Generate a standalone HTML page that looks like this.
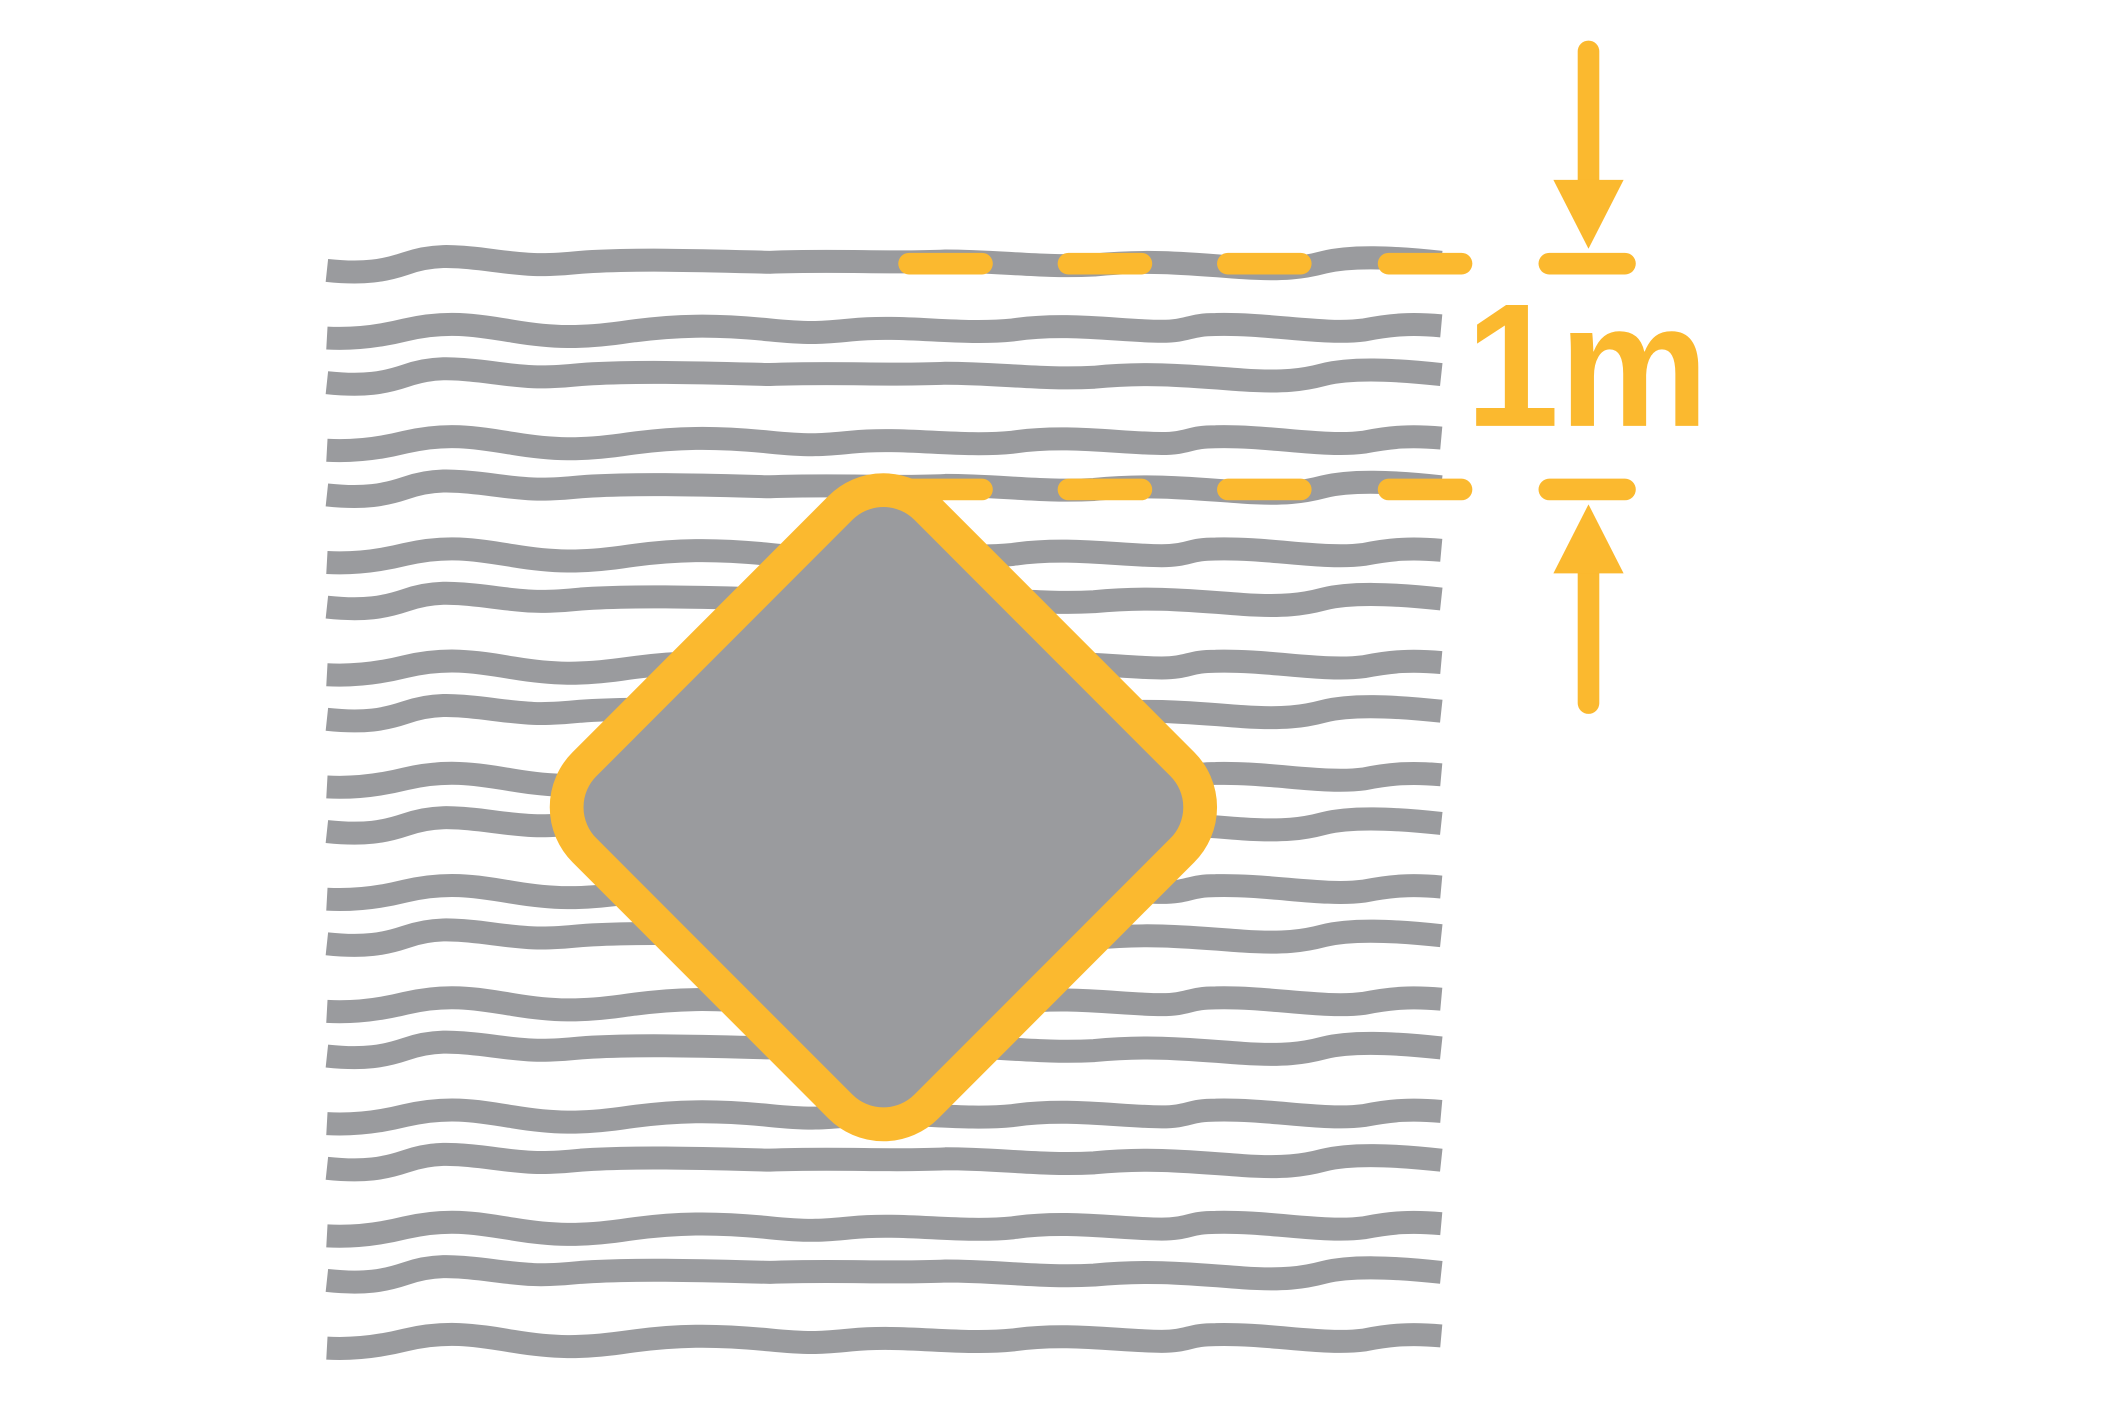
<!DOCTYPE html>
<html><head><meta charset="utf-8"><style>
html,body{margin:0;padding:0;background:#fff;}
svg{display:block;}
</style></head><body>
<svg width="2118" height="1413" viewBox="0 0 1568 1045" preserveAspectRatio="none" xmlns="http://www.w3.org/2000/svg">
<defs>
<path id="wa" d="M242,200 C270,203 285,200 300,195 C320,188 335,189 360,192 C390,196 400,197 430,194 C470,191 530,193 570,194 C620,192 660,195 700,193 C740,193 770,198 810,196 C850,192 880,195 920,198 C950,200 965,198 980,194 C1000,189 1030,190 1067,194" fill="none" stroke="#9a9b9e" stroke-width="17"/>
<path id="wb" d="M242,250 C260,251 280,249 300,244 C330,237 350,240 380,245 C410,250 430,250 460,246 C500,240 530,240 570,244 C600,247 610,246 630,244 C670,240 710,248 750,244 C790,238 830,245 860,245 C880,245 880,240 900,240 C940,239 980,248 1010,244 C1030,240 1045,239 1067,241" fill="none" stroke="#9a9b9e" stroke-width="17"/>
</defs>
<use href="#wa" y="0"/><use href="#wb" y="0"/>
<use href="#wa" y="83"/><use href="#wb" y="83"/>
<use href="#wa" y="166"/><use href="#wb" y="166"/>
<use href="#wa" y="249"/><use href="#wb" y="249"/>
<use href="#wa" y="332"/><use href="#wb" y="332"/>
<use href="#wa" y="415"/><use href="#wb" y="415"/>
<use href="#wa" y="498"/><use href="#wb" y="498"/>
<use href="#wa" y="581"/><use href="#wb" y="581"/>
<use href="#wa" y="664"/><use href="#wb" y="664"/>
<use href="#wa" y="747"/><use href="#wb" y="747"/>
<rect x="0" y="0" width="358" height="358" rx="45" ry="45" fill="#9a9b9e" stroke="#fbb92f" stroke-width="25" transform="translate(654,597) rotate(45) translate(-179,-179)"/>
<g stroke="#fbb92f" stroke-width="16" stroke-linecap="round">
<line x1="673" y1="195" x2="727" y2="195"/><line x1="791" y1="195" x2="845" y2="195"/><line x1="909" y1="195" x2="963" y2="195"/><line x1="1028" y1="195" x2="1082" y2="195"/><line x1="1147" y1="195" x2="1203" y2="195"/>
<line x1="673" y1="362" x2="727" y2="362"/><line x1="791" y1="362" x2="845" y2="362"/><line x1="909" y1="362" x2="963" y2="362"/><line x1="1028" y1="362" x2="1082" y2="362"/><line x1="1147" y1="362" x2="1203" y2="362"/>
<line x1="1176" y1="38" x2="1176" y2="134"/><line x1="1176" y1="424" x2="1176" y2="520"/>
</g>
<polygon points="1150,133 1202,133 1176,184" fill="#fbb92f"/>
<polygon points="1150,424 1202,424 1176,373" fill="#fbb92f"/>
<text x="1085" y="315" font-family="Liberation Sans, sans-serif" font-weight="bold" font-size="130" fill="#fbb92f" textLength="180" lengthAdjust="spacingAndGlyphs">1m</text>
</svg>
</body></html>
